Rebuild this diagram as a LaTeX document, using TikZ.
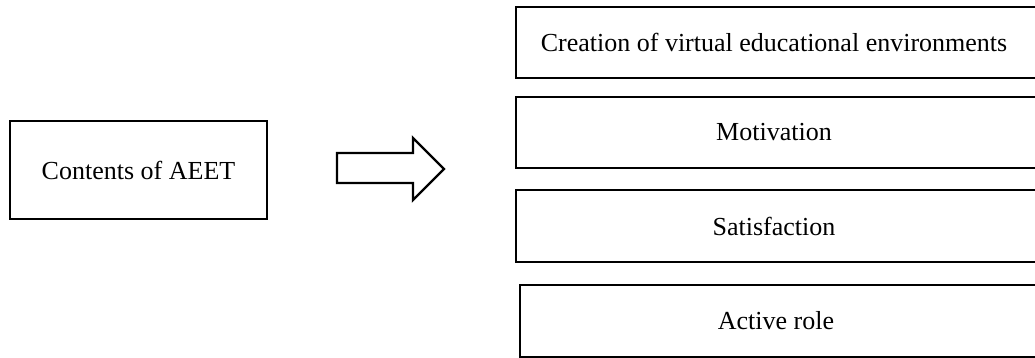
\documentclass[tikz,border=0pt]{standalone}
\usepackage{fontspec}
\setmainfont{Liberation Serif}
\begin{document}
\begin{tikzpicture}[x=1pt,y=-1pt,
  box/.style={draw=black, line width=2.4pt, rectangle, inner sep=0pt, fill=white},
  txt/.style={font=\fontsize{26}{30}\selectfont, text=black}]
\useasboundingbox (0,0) rectangle (1035,358);
\clip (0,0) rectangle (1035,358);
% left box
\node[box, minimum width=257pt, minimum height=98pt, txt] (src) at (138.5,170) {Contents of AEET};
% block arrow
\draw[line width=2.4pt, line join=miter, fill=white] (337,153) -- (413,153) -- (413,138) -- (444,169) -- (413,200) -- (413,183) -- (337,183) -- cycle;
% right boxes
\node[box, anchor=west, minimum width=540pt, minimum height=71pt] (b1) at (515,42.5) {};
\node[txt] (t1) at (774,42.5) {Creation of virtual educational environments};
\node[box, anchor=west, minimum width=540pt, minimum height=71pt] (b2) at (515,132.5) {};
\node[txt] (t2) at (774,132.5) {Motivation};
\node[box, anchor=west, minimum width=540pt, minimum height=72pt] (b3) at (515,226) {};
\node[txt] (t3) at (774,226) {Satisfaction};
\node[box, anchor=west, minimum width=540pt, minimum height=72pt] (b4) at (519,321) {};
\node[txt] (t4) at (776,321) {Active role};
\end{tikzpicture}
\end{document}
